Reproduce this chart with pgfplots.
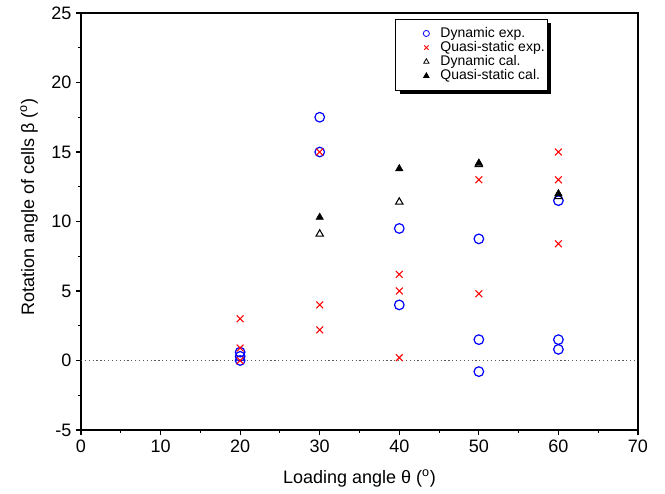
\documentclass[border=0pt]{standalone}
\usepackage{pgfplots}
\pgfplotsset{compat=1.18}
\usepackage{fontspec}
\setmainfont{Liberation Sans}
\usetikzlibrary{shadows}
\begin{document}
\begin{tikzpicture}
\begin{axis}[
  scale only axis,
  width=417.75pt, height=312.75pt,
  xmin=0, xmax=70, ymin=-5, ymax=25,
  xtick={0,10,...,70}, ytick={-5,0,...,25},
  minor x tick num=1, minor y tick num=1,
  tick align=outside, tick pos=left,
  major tick length=3.75pt, minor tick length=2.25pt,
  tick style={line width=0.8pt, black},
  /pgf/number format/assume math mode=true,
  ticklabel style={font=\fontsize{13.5}{15}\selectfont},
  xlabel={Loading angle θ (\textsuperscript{o})},
  ylabel={Rotation angle of cells β (\textsuperscript{o})},
  every axis y label/.style={at={(axis description cs:0,0.535)}, xshift=-39pt, rotate=90, anchor=center},
  every axis x label/.style={at={(axis description cs:0.5,0)}, yshift=-36pt, anchor=center},
  label style={font=\fontsize{13.5}{15}\selectfont},
  axis line style={line width=0.9pt},
  legend cell align=left,
  legend style={at={(0.838,0.9856)}, anchor=north east, font=\fontsize{10.5}{12}\selectfont,
    draw=black, line width=0.6pt, fill=white, drop shadow={shadow xshift=3pt, shadow yshift=-3pt, opacity=1, fill=black},
    row sep=-2.5pt, inner xsep=0pt, inner ysep=4pt},
  legend image code/.code={\path (0cm,0cm) (1.075cm,0cm); \draw[#1, mark size=2.3pt, line width=0.6pt] plot coordinates {(0.79cm,0cm)};},
]
\addplot[only marks, mark=o, mark size=3.6pt, color=blue, line width=0.9pt] coordinates {
(20,0)(20,0.3)(20,0.6)(30,17.5)(30,15)(40,9.5)(40,4)(50,8.75)(50,1.5)(50,-0.8)(60,11.5)(60,1.5)(60,0.8)};
\addlegendentry{Dynamic exp.}
\addplot[only marks, mark=x, mark size=3.6pt, color=red, line width=0.8pt] coordinates {
(20,3)(20,0.9)(20,0)(30,15)(30,4)(30,2.2)(40,6.2)(40,5)(40,0.2)(50,13)(50,4.8)(60,15)(60,13)(60,8.4)};
\addlegendentry{Quasi-static exp.}
\addplot[only marks, mark=triangle, mark size=3.2pt, color=black, line width=0.8pt] coordinates {
(30,9.1)(40,11.4)(50,14.1)(60,11.8)};
\addlegendentry{Dynamic cal.}
\addplot[only marks, mark=triangle*, mark size=3.2pt, color=black] coordinates {
(30,10.3)(40,13.8)(50,14.2)(60,12)};
\addlegendentry{Quasi-static cal.}
\addplot[dotted, line width=0.9pt, gray!70!black, forget plot] coordinates {(0,0)(70,0)};
\end{axis}
\pgfresetboundingbox
\path[use as bounding box] ([shift={(-60.75pt,-48pt)}]current axis.south west) rectangle ([shift={(20.25pt,9.75pt)}]current axis.north east);
\end{tikzpicture}
\end{document}
